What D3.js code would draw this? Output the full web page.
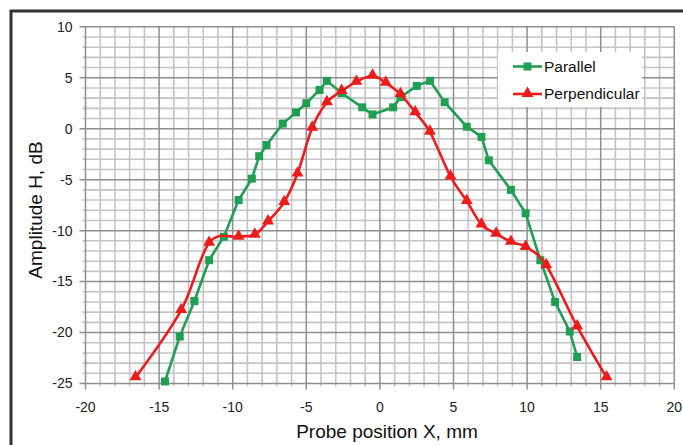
<!DOCTYPE html>
<html lang="en">
<head>
    <meta charset="UTF-8">
    <title>Probe amplitude</title>
    <script src="https://d3js.org/d3.v7.min.js"></script>
    <style>
        body { margin: 0; background: #fff; font-family: "Liberation Sans", Arial, sans-serif; }
        svg { display: block; }
        .tick-label { font-size: 14px; fill: #222; }
        .axis-title { font-size: 19px; fill: #111; }
        .legend-label { font-size: 15.5px; fill: #111; }
    </style>
</head>
<body>
<script>
    // data (x in mm, amplitude in dB)
    const parallelX = [-14.6, -13.6, -12.6, -11.6, -10.6, -9.6, -8.7, -8.2, -7.7, -6.6, -5.7, -5.0, -4.1, -3.6, -2.6, -1.2, -0.5, 0.9, 1.4, 2.5, 3.4, 4.4, 5.9, 6.9, 7.4, 8.9, 9.9, 10.9, 11.9, 12.9, 13.4];
    const parallelY = [-24.8, -20.4, -16.9, -12.9, -10.6, -7.0, -4.9, -2.7, -1.6, 0.5, 1.6, 2.5, 3.8, 4.7, 3.5, 2.1, 1.4, 2.1, 3.1, 4.2, 4.7, 2.6, 0.2, -0.8, -3.1, -6.0, -8.3, -12.9, -17.0, -19.9, -22.4];

    const perpX = [-16.6, -13.5, -11.6, -9.6, -8.5, -7.6, -6.5, -5.6, -4.6, -3.6, -2.6, -1.6, -0.5, 0.4, 1.4, 2.4, 3.4, 4.8, 5.9, 6.9, 7.9, 8.9, 9.9, 11.3, 13.4, 15.4];
    const perpY = [-24.4, -17.8, -11.2, -10.6, -10.4, -9.1, -7.2, -4.4, 0.1, 2.6, 3.7, 4.6, 5.2, 4.5, 3.4, 1.6, -0.3, -4.7, -7.1, -9.4, -10.3, -11.1, -11.6, -13.4, -19.4, -24.4];

    const xTicks = [-20, -15, -10, -5, 0, 5, 10, 15, 20];
    const yTicks = [10, 5, 0, -5, -10, -15, -20, -25];
    const seriesNames = ["Parallel", "Perpendicular"];

    const width = 683, height = 445;
    const green = "#1f9f52", red = "#ee1b1b";

    const svg = d3.select("body").append("svg")
        .attr("width", width)
        .attr("height", height);

    // outer frame (runs off the right and bottom edges)
    svg.append("rect")
        .attr("x", 11).attr("y", 11)
        .attr("width", 700).attr("height", 460)
        .attr("fill", "none")
        .attr("stroke", "#333")
        .attr("stroke-width", 3);

    const x = d3.scaleLinear().domain([-20, 20]).range([85.5, 674.3]);
    const y = d3.scaleLinear().domain([-25, 10]).range([383.5, 26.8]);

    const minorX = d3.range(-20, 21, 1), minorY = d3.range(-25, 11, 1);

    // minor grid
    const grid = svg.append("g");
    grid.selectAll(".mx").data(minorX.filter(v => v % 5 !== 0)).enter().append("line")
        .attr("x1", d => x(d)).attr("x2", d => x(d))
        .attr("y1", y(10)).attr("y2", y(-25) + 3)
        .attr("stroke", "#c4c4c4").attr("stroke-width", 1.6);
    grid.selectAll(".my").data(minorY.filter(v => v % 5 !== 0)).enter().append("line")
        .attr("x1", x(-20) - 3).attr("x2", x(20))
        .attr("y1", d => y(d)).attr("y2", d => y(d))
        .attr("stroke", "#c4c4c4").attr("stroke-width", 1.6);

    // major grid
    grid.selectAll(".Mx").data(xTicks).enter().append("line")
        .attr("x1", d => x(d)).attr("x2", d => x(d))
        .attr("y1", y(10)).attr("y2", y(-25) + 6)
        .attr("stroke", "#8e8e8e").attr("stroke-width", 1.5);
    grid.selectAll(".My").data(yTicks).enter().append("line")
        .attr("x1", x(-20) - 6).attr("x2", x(20))
        .attr("y1", d => y(d)).attr("y2", d => y(d))
        .attr("stroke", "#8e8e8e").attr("stroke-width", 1.5);

    // tick labels
    svg.selectAll(".xl").data(xTicks).enter().append("text")
        .attr("class", "tick-label")
        .attr("x", d => x(d)).attr("y", 411.5)
        .attr("text-anchor", "middle")
        .text(d => d);
    svg.selectAll(".yl").data(yTicks).enter().append("text")
        .attr("class", "tick-label")
        .attr("x", x(-20) - 13).attr("y", d => y(d))
        .attr("dy", "0.35em")
        .attr("text-anchor", "end")
        .text(d => d);

    // axis titles
    svg.append("text").attr("class", "axis-title")
        .attr("x", 387).attr("y", 438)
        .attr("text-anchor", "middle")
        .text("Probe position X, mm");
    svg.append("text").attr("class", "axis-title")
        .attr("transform", "translate(42,210) rotate(-90)")
        .attr("text-anchor", "middle")
        .text("Amplitude H, dB");

    // series
    const parallel = parallelX.map((v, i) => [v, parallelY[i]]);
    const perp = perpX.map((v, i) => [v, perpY[i]]);

    const lineStraight = d3.line().x(d => x(d[0])).y(d => y(d[1]));
    const lineSmooth = d3.line().x(d => x(d[0])).y(d => y(d[1])).curve(d3.curveCardinal.tension(0));

    svg.append("path").datum(parallel)
        .attr("d", lineStraight)
        .attr("fill", "none").attr("stroke", green).attr("stroke-width", 2.6);
    svg.selectAll(".sq").data(parallel).enter().append("rect")
        .attr("x", d => x(d[0]) - 4).attr("y", d => y(d[1]) - 4)
        .attr("width", 8).attr("height", 8)
        .attr("fill", green);

    svg.append("path").datum(perp)
        .attr("d", lineSmooth)
        .attr("fill", "none").attr("stroke", red).attr("stroke-width", 2.6);
    const tri = d3.symbol().type(d3.symbolTriangle).size(62);
    svg.selectAll(".tr").data(perp).enter().append("path")
        .attr("d", tri)
        .attr("transform", d => `translate(${x(d[0])},${y(d[1]) - 0.5})`)
        .attr("fill", red);

    // legend
    const legend = svg.append("g");
    legend.append("rect")
        .attr("x", 498).attr("y", 52).attr("width", 144).attr("height", 55)
        .attr("fill", "#fff");
    const legendRows = [{ name: seriesNames[0], color: green, ly: 66.5 }, { name: seriesNames[1], color: red, ly: 94 }];
    legendRows.forEach((r, i) => {
        legend.append("line")
            .attr("x1", 513).attr("x2", 542).attr("y1", r.ly).attr("y2", r.ly)
            .attr("stroke", r.color).attr("stroke-width", 2.6);
        if (i === 0) {
            legend.append("rect").attr("x", 527.5 - 4).attr("y", r.ly - 4)
                .attr("width", 8).attr("height", 8).attr("fill", r.color);
        } else {
            legend.append("path").attr("d", tri)
                .attr("transform", `translate(527.5,${r.ly - 0.5})`).attr("fill", r.color);
        }
        legend.append("text").attr("class", "legend-label")
            .attr("x", 544).attr("y", r.ly).attr("dy", "0.35em")
            .text(r.name);
    });
</script>
</body>
</html>
